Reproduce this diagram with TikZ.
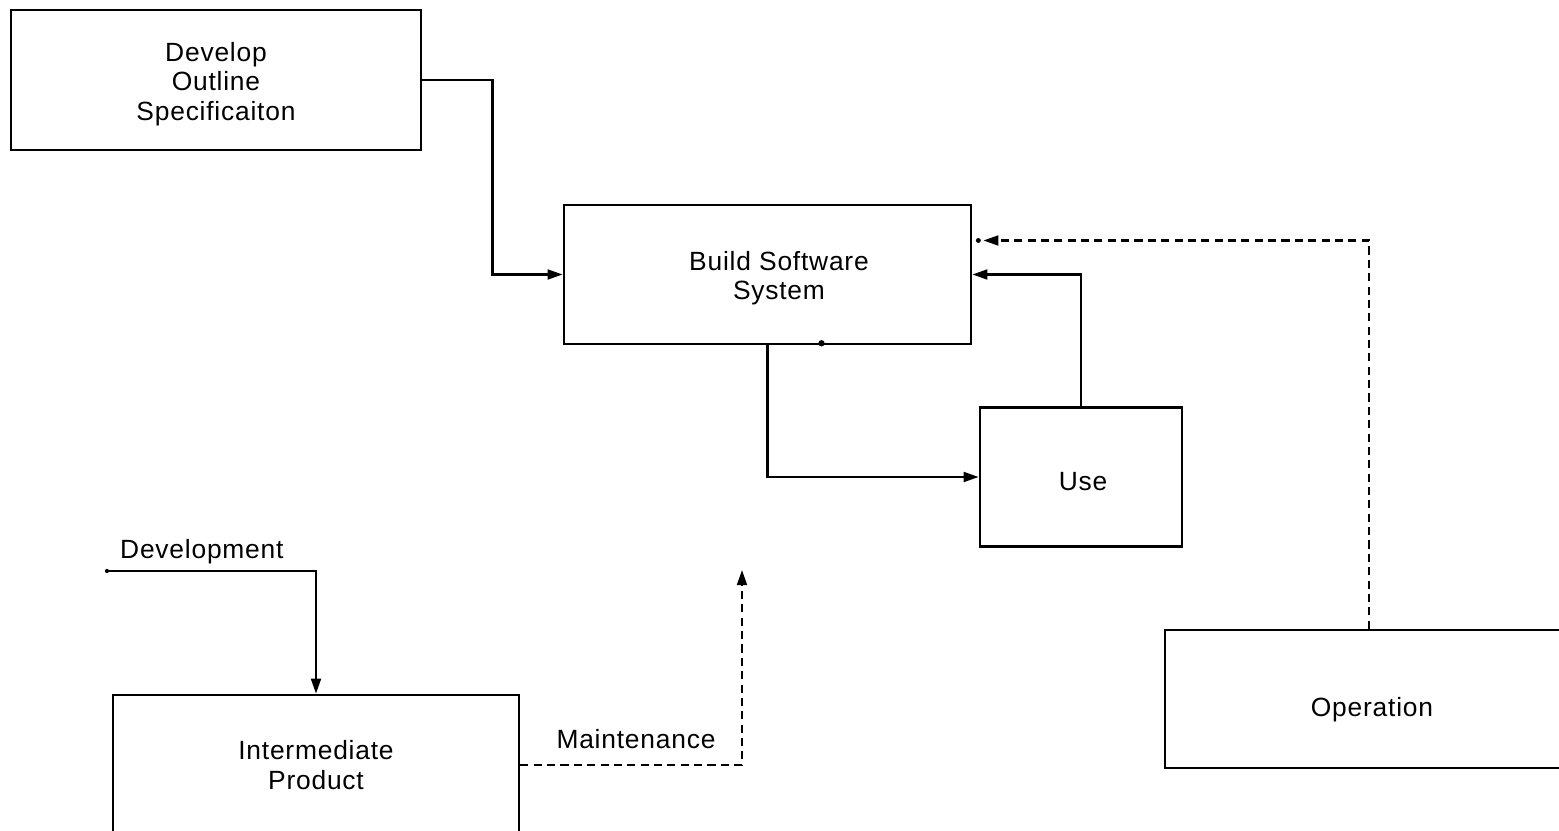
\documentclass[tikz,border=0pt]{standalone}
\usepackage{fontspec}
\setmainfont{Liberation Sans}[LetterSpace=3]
\usetikzlibrary{arrows.meta,calc}
\begin{document}
\begin{tikzpicture}[x=0.01cm,y=-0.01cm,
  line width=0.7pt,
  every node/.style={font=\fontsize{7.5}{8.4}\selectfont, inner sep=0pt, align=center},
  box/.style={draw, rectangle},
  arr/.style={-{Triangle[length=4.3pt,width=2.8pt]}},
  dasharr/.style={arr, dash pattern=on 2.3pt off 1.5pt}]
  \clip (0,0) rectangle (1559,831);
  \fill[white] (0,0) rectangle (1559,831);

  % process boxes and their captions
  \node[box, minimum width=4.10cm, minimum height=1.40cm] (dos) at (216,80) {};
  \node (dostext) at (216,84) {Develop\\Outline\\Specificaiton};
  \node[box, minimum width=4.07cm, minimum height=1.39cm] (build) at (767.5,274.5) {};
  \node (buildtext) at (779,278) {Build Software\\System};
  \node[box, minimum width=2.02cm, minimum height=1.39cm] (use) at (1081,477) {};
  \node (usetext) at (1083,482) {Use};
  \node[box, minimum width=4.08cm, minimum height=1.38cm] (op) at (1369,699) {};
  \node (optext) at (1372,710) {Operation};
  \node[box, minimum width=4.06cm, minimum height=1.40cm] (inter) at (316,765)
    {Intermediate\\Product};

  % small mark on the lower edge of the build box
  \fill ($(build.south)+(54,-2)$) circle (0.9pt);

  % solid flows
  \draw[arr] (dos.east) -- ++(70,0) |- (build.west);
  \draw[arr] (build.south) |- (use.west);
  \draw[arr] (use.north) |- (build.east);

  % development entry
  \coordinate (devstart) at (107,571);
  \fill (devstart) circle (0.6pt);
  \draw[arr] (devstart) -| (inter.north);
  \node[anchor=base west] (devlabel) at (119,559) {Development};

  % maintenance flow
  \coordinate (mtend) at (742,570);
  \draw[dasharr] (inter.east) -| (mtend);
  \node[anchor=base] (mtlabel) at (636,749) {Maintenance};

  % operation feedback
  \coordinate (opend) at ($(build.east)+(11,-34)$);
  \draw[dasharr] (op.north) |- (opend);
  \fill ($(build.east)+(6,-34)$) circle (0.7pt);
\end{tikzpicture}
\end{document}
